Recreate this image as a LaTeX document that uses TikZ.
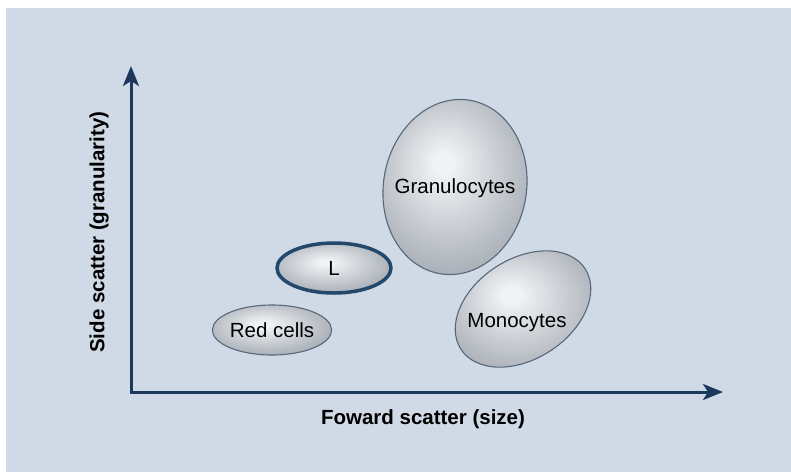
\documentclass[tikz,border=0pt]{standalone}
\usepackage{fontspec}
\setmainfont{Liberation Sans}
\usetikzlibrary{shapes.geometric,arrows.meta}
\definecolor{bgcol}{RGB}{208,218,230}
\definecolor{axiscol}{RGB}{28,56,92}
\definecolor{lcol}{RGB}{34,72,108}
\definecolor{cellhi}{RGB}{240,242,244}
\definecolor{cellmid}{RGB}{186,191,198}
\definecolor{celledge}{RGB}{128,136,146}
\definecolor{celloutline}{RGB}{88,104,122}
\pgfdeclareradialshading{cellshade}{\pgfpoint{-4bp}{6bp}}{color(0bp)=(cellhi); color(3bp)=(cellhi); color(22bp)=(cellmid); color(44bp)=(celledge); color(50bp)=(celledge)}
\tikzset{
  cell/.style={ellipse, shading=cellshade, draw=celloutline, line width=1.1pt, inner sep=0pt, font=\fontsize{20.5}{24}\selectfont},
  celltext/.style={font=\fontsize{20.5}{24}\selectfont, inner sep=0pt},
  axislabel/.style={font=\fontsize{20.5}{24}\selectfont\bfseries, inner sep=0pt},
  axis/.style={draw=axiscol, line width=3pt, line join=miter, {Stealth[length=20pt,width=16pt,inset=5pt]}-{Stealth[length=20pt,width=16pt,inset=5pt]}}
}
\begin{document}
\begin{tikzpicture}[x=1pt,y=-1pt]
\useasboundingbox (0,0) rectangle (791,472);
\fill[bgcol] (6,8) rectangle (791,472);
\coordinate (origin) at (131,392);
\coordinate (ytip) at (131,66);
\coordinate (xtip) at (723,392);
\draw[axis] (ytip) -- (origin) -- (xtip);
\node[axislabel] (xlabel) at (423,419) {Foward scatter (size)};
\node[axislabel, rotate=90] (ylabel) at (99,232) {Side scatter (granularity)};
\node[cell, minimum width=116pt, minimum height=50pt] (red) at (272,330) {Red cells};
\node[cell, draw=lcol, line width=3.5pt, minimum width=114pt, minimum height=50pt] (lymph) at (334,268) {L};
\node[cell, rotate=-10, minimum width=143pt, minimum height=176pt] (gran) at (455,187) {};
\node[celltext] (grantext) at (455,188) {Granulocytes};
\node[cell, rotate=33, minimum width=148pt, minimum height=100pt] (mono) at (523,309) {};
\node[celltext] (monotext) at (517,323) {Monocytes};
\end{tikzpicture}
\end{document}
